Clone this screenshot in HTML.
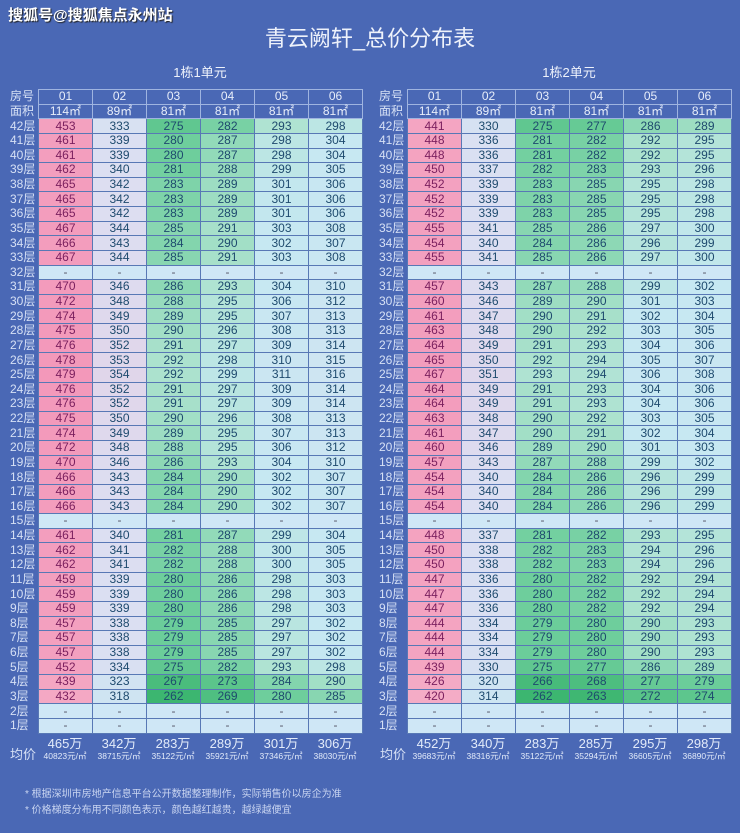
<!DOCTYPE html>
<html><head><meta charset="utf-8">
<style>
body{margin:0;width:740px;height:833px;background:#4a68b5;font-family:"Liberation Sans","Noto Sans CJK SC",sans-serif;overflow:hidden;position:relative}
.wm{position:absolute;left:8px;top:4px;font-size:15px;font-weight:bold;color:#fff;text-shadow:1px 1px 1px #222}
.title{position:absolute;left:0;width:740px;top:21px;text-align:center;font-size:22px;color:#eef2fb}
.sub{position:absolute;top:62px;font-size:13px;color:#eef2fb;text-align:center;width:324px}
table{position:absolute;top:89px;border-collapse:collapse;table-layout:fixed}
td,th{height:13.64px;padding:0;font-size:12px;line-height:13px;text-align:center;font-weight:normal;border:1px solid #5878b5}
th{border:none;color:#d6e0f5;width:28px;text-align:left;padding-left:2px}
tr.h td{color:#e8eefa;border:1px solid #9fb4e0;background:#4a68b5}
td{width:53px;color:#1e4a6e}
td.c1{color:#7a1f5e}
td.e{background:#cfe7f6;color:#556}
.avg{position:absolute;top:737px;width:54px;text-align:center;color:#e3ebfa}
.avg b{display:block;font-weight:normal;font-size:13px;line-height:14px}
.avg i{display:block;font-style:normal;font-size:8.5px;line-height:11px;white-space:nowrap;margin-left:-4px;margin-right:-4px}
.al{position:absolute;top:744px;font-size:13px;color:#d6e0f5}
.note{position:absolute;left:25px;font-size:10px;color:#c9d5f1}
</style></head><body>
<div class="wm">搜狐号@搜狐焦点永州站</div>
<div class="title">青云阙轩_总价分布表</div>
<div class="sub" style="left:38px">1栋1单元</div>
<div class="sub" style="left:407px">1栋2单元</div>

<table id="t1" style="left:8px">
<tr class="h"><th>房号</th><td>01</td><td>02</td><td>03</td><td>04</td><td>05</td><td>06</td></tr>
<tr class="h"><th>面积</th><td>114㎡</td><td>89㎡</td><td>81㎡</td><td>81㎡</td><td>81㎡</td><td>81㎡</td></tr>
<tr><th>42层</th><td>453</td><td>333</td><td>275</td><td>282</td><td>293</td><td>298</td></tr>
<tr><th>41层</th><td>461</td><td>339</td><td>280</td><td>287</td><td>298</td><td>304</td></tr>
<tr><th>40层</th><td>461</td><td>339</td><td>280</td><td>287</td><td>298</td><td>304</td></tr>
<tr><th>39层</th><td>462</td><td>340</td><td>281</td><td>288</td><td>299</td><td>305</td></tr>
<tr><th>38层</th><td>465</td><td>342</td><td>283</td><td>289</td><td>301</td><td>306</td></tr>
<tr><th>37层</th><td>465</td><td>342</td><td>283</td><td>289</td><td>301</td><td>306</td></tr>
<tr><th>36层</th><td>465</td><td>342</td><td>283</td><td>289</td><td>301</td><td>306</td></tr>
<tr><th>35层</th><td>467</td><td>344</td><td>285</td><td>291</td><td>303</td><td>308</td></tr>
<tr><th>34层</th><td>466</td><td>343</td><td>284</td><td>290</td><td>302</td><td>307</td></tr>
<tr><th>33层</th><td>467</td><td>344</td><td>285</td><td>291</td><td>303</td><td>308</td></tr>
<tr><th>32层</th><td>-</td><td>-</td><td>-</td><td>-</td><td>-</td><td>-</td></tr>
<tr><th>31层</th><td>470</td><td>346</td><td>286</td><td>293</td><td>304</td><td>310</td></tr>
<tr><th>30层</th><td>472</td><td>348</td><td>288</td><td>295</td><td>306</td><td>312</td></tr>
<tr><th>29层</th><td>474</td><td>349</td><td>289</td><td>295</td><td>307</td><td>313</td></tr>
<tr><th>28层</th><td>475</td><td>350</td><td>290</td><td>296</td><td>308</td><td>313</td></tr>
<tr><th>27层</th><td>476</td><td>352</td><td>291</td><td>297</td><td>309</td><td>314</td></tr>
<tr><th>26层</th><td>478</td><td>353</td><td>292</td><td>298</td><td>310</td><td>315</td></tr>
<tr><th>25层</th><td>479</td><td>354</td><td>292</td><td>299</td><td>311</td><td>316</td></tr>
<tr><th>24层</th><td>476</td><td>352</td><td>291</td><td>297</td><td>309</td><td>314</td></tr>
<tr><th>23层</th><td>476</td><td>352</td><td>291</td><td>297</td><td>309</td><td>314</td></tr>
<tr><th>22层</th><td>475</td><td>350</td><td>290</td><td>296</td><td>308</td><td>313</td></tr>
<tr><th>21层</th><td>474</td><td>349</td><td>289</td><td>295</td><td>307</td><td>313</td></tr>
<tr><th>20层</th><td>472</td><td>348</td><td>288</td><td>295</td><td>306</td><td>312</td></tr>
<tr><th>19层</th><td>470</td><td>346</td><td>286</td><td>293</td><td>304</td><td>310</td></tr>
<tr><th>18层</th><td>466</td><td>343</td><td>284</td><td>290</td><td>302</td><td>307</td></tr>
<tr><th>17层</th><td>466</td><td>343</td><td>284</td><td>290</td><td>302</td><td>307</td></tr>
<tr><th>16层</th><td>466</td><td>343</td><td>284</td><td>290</td><td>302</td><td>307</td></tr>
<tr><th>15层</th><td>-</td><td>-</td><td>-</td><td>-</td><td>-</td><td>-</td></tr>
<tr><th>14层</th><td>461</td><td>340</td><td>281</td><td>287</td><td>299</td><td>304</td></tr>
<tr><th>13层</th><td>462</td><td>341</td><td>282</td><td>288</td><td>300</td><td>305</td></tr>
<tr><th>12层</th><td>462</td><td>341</td><td>282</td><td>288</td><td>300</td><td>305</td></tr>
<tr><th>11层</th><td>459</td><td>339</td><td>280</td><td>286</td><td>298</td><td>303</td></tr>
<tr><th>10层</th><td>459</td><td>339</td><td>280</td><td>286</td><td>298</td><td>303</td></tr>
<tr><th>9层</th><td>459</td><td>339</td><td>280</td><td>286</td><td>298</td><td>303</td></tr>
<tr><th>8层</th><td>457</td><td>338</td><td>279</td><td>285</td><td>297</td><td>302</td></tr>
<tr><th>7层</th><td>457</td><td>338</td><td>279</td><td>285</td><td>297</td><td>302</td></tr>
<tr><th>6层</th><td>457</td><td>338</td><td>279</td><td>285</td><td>297</td><td>302</td></tr>
<tr><th>5层</th><td>452</td><td>334</td><td>275</td><td>282</td><td>293</td><td>298</td></tr>
<tr><th>4层</th><td>439</td><td>323</td><td>267</td><td>273</td><td>284</td><td>290</td></tr>
<tr><th>3层</th><td>432</td><td>318</td><td>262</td><td>269</td><td>280</td><td>285</td></tr>
<tr><th>2层</th><td>-</td><td>-</td><td>-</td><td>-</td><td>-</td><td>-</td></tr>
<tr><th>1层</th><td>-</td><td>-</td><td>-</td><td>-</td><td>-</td><td>-</td></tr>
</table>

<table id="t2" style="left:377px">
<tr class="h"><th>房号</th><td>01</td><td>02</td><td>03</td><td>04</td><td>05</td><td>06</td></tr>
<tr class="h"><th>面积</th><td>114㎡</td><td>89㎡</td><td>81㎡</td><td>81㎡</td><td>81㎡</td><td>81㎡</td></tr>
<tr><th>42层</th><td>441</td><td>330</td><td>275</td><td>277</td><td>286</td><td>289</td></tr>
<tr><th>41层</th><td>448</td><td>336</td><td>281</td><td>282</td><td>292</td><td>295</td></tr>
<tr><th>40层</th><td>448</td><td>336</td><td>281</td><td>282</td><td>292</td><td>295</td></tr>
<tr><th>39层</th><td>450</td><td>337</td><td>282</td><td>283</td><td>293</td><td>296</td></tr>
<tr><th>38层</th><td>452</td><td>339</td><td>283</td><td>285</td><td>295</td><td>298</td></tr>
<tr><th>37层</th><td>452</td><td>339</td><td>283</td><td>285</td><td>295</td><td>298</td></tr>
<tr><th>36层</th><td>452</td><td>339</td><td>283</td><td>285</td><td>295</td><td>298</td></tr>
<tr><th>35层</th><td>455</td><td>341</td><td>285</td><td>286</td><td>297</td><td>300</td></tr>
<tr><th>34层</th><td>454</td><td>340</td><td>284</td><td>286</td><td>296</td><td>299</td></tr>
<tr><th>33层</th><td>455</td><td>341</td><td>285</td><td>286</td><td>297</td><td>300</td></tr>
<tr><th>32层</th><td>-</td><td>-</td><td>-</td><td>-</td><td>-</td><td>-</td></tr>
<tr><th>31层</th><td>457</td><td>343</td><td>287</td><td>288</td><td>299</td><td>302</td></tr>
<tr><th>30层</th><td>460</td><td>346</td><td>289</td><td>290</td><td>301</td><td>303</td></tr>
<tr><th>29层</th><td>461</td><td>347</td><td>290</td><td>291</td><td>302</td><td>304</td></tr>
<tr><th>28层</th><td>463</td><td>348</td><td>290</td><td>292</td><td>303</td><td>305</td></tr>
<tr><th>27层</th><td>464</td><td>349</td><td>291</td><td>293</td><td>304</td><td>306</td></tr>
<tr><th>26层</th><td>465</td><td>350</td><td>292</td><td>294</td><td>305</td><td>307</td></tr>
<tr><th>25层</th><td>467</td><td>351</td><td>293</td><td>294</td><td>306</td><td>308</td></tr>
<tr><th>24层</th><td>464</td><td>349</td><td>291</td><td>293</td><td>304</td><td>306</td></tr>
<tr><th>23层</th><td>464</td><td>349</td><td>291</td><td>293</td><td>304</td><td>306</td></tr>
<tr><th>22层</th><td>463</td><td>348</td><td>290</td><td>292</td><td>303</td><td>305</td></tr>
<tr><th>21层</th><td>461</td><td>347</td><td>290</td><td>291</td><td>302</td><td>304</td></tr>
<tr><th>20层</th><td>460</td><td>346</td><td>289</td><td>290</td><td>301</td><td>303</td></tr>
<tr><th>19层</th><td>457</td><td>343</td><td>287</td><td>288</td><td>299</td><td>302</td></tr>
<tr><th>18层</th><td>454</td><td>340</td><td>284</td><td>286</td><td>296</td><td>299</td></tr>
<tr><th>17层</th><td>454</td><td>340</td><td>284</td><td>286</td><td>296</td><td>299</td></tr>
<tr><th>16层</th><td>454</td><td>340</td><td>284</td><td>286</td><td>296</td><td>299</td></tr>
<tr><th>15层</th><td>-</td><td>-</td><td>-</td><td>-</td><td>-</td><td>-</td></tr>
<tr><th>14层</th><td>448</td><td>337</td><td>281</td><td>282</td><td>293</td><td>295</td></tr>
<tr><th>13层</th><td>450</td><td>338</td><td>282</td><td>283</td><td>294</td><td>296</td></tr>
<tr><th>12层</th><td>450</td><td>338</td><td>282</td><td>283</td><td>294</td><td>296</td></tr>
<tr><th>11层</th><td>447</td><td>336</td><td>280</td><td>282</td><td>292</td><td>294</td></tr>
<tr><th>10层</th><td>447</td><td>336</td><td>280</td><td>282</td><td>292</td><td>294</td></tr>
<tr><th>9层</th><td>447</td><td>336</td><td>280</td><td>282</td><td>292</td><td>294</td></tr>
<tr><th>8层</th><td>444</td><td>334</td><td>279</td><td>280</td><td>290</td><td>293</td></tr>
<tr><th>7层</th><td>444</td><td>334</td><td>279</td><td>280</td><td>290</td><td>293</td></tr>
<tr><th>6层</th><td>444</td><td>334</td><td>279</td><td>280</td><td>290</td><td>293</td></tr>
<tr><th>5层</th><td>439</td><td>330</td><td>275</td><td>277</td><td>286</td><td>289</td></tr>
<tr><th>4层</th><td>426</td><td>320</td><td>266</td><td>268</td><td>277</td><td>279</td></tr>
<tr><th>3层</th><td>420</td><td>314</td><td>262</td><td>263</td><td>272</td><td>274</td></tr>
<tr><th>2层</th><td>-</td><td>-</td><td>-</td><td>-</td><td>-</td><td>-</td></tr>
<tr><th>1层</th><td>-</td><td>-</td><td>-</td><td>-</td><td>-</td><td>-</td></tr>
</table>

<div class="al" style="left:10px">均价</div>
<div class="avg" style="left:38px"><b>465万</b><i>40823元/㎡</i></div>
<div class="avg" style="left:92px"><b>342万</b><i>38715元/㎡</i></div>
<div class="avg" style="left:146px"><b>283万</b><i>35122元/㎡</i></div>
<div class="avg" style="left:200px"><b>289万</b><i>35921元/㎡</i></div>
<div class="avg" style="left:254px"><b>301万</b><i>37346元/㎡</i></div>
<div class="avg" style="left:308px"><b>306万</b><i>38030元/㎡</i></div>
<div class="al" style="left:380px">均价</div>
<div class="avg" style="left:407px"><b>452万</b><i>39683元/㎡</i></div>
<div class="avg" style="left:461px"><b>340万</b><i>38316元/㎡</i></div>
<div class="avg" style="left:515px"><b>283万</b><i>35122元/㎡</i></div>
<div class="avg" style="left:569px"><b>285万</b><i>35294元/㎡</i></div>
<div class="avg" style="left:623px"><b>295万</b><i>36605元/㎡</i></div>
<div class="avg" style="left:677px"><b>298万</b><i>36890元/㎡</i></div>

<div class="note" style="top:785px">* 根据深圳市房地产信息平台公开数据整理制作，实际销售价以房企为准</div>
<div class="note" style="top:801px">* 价格梯度分布用不同颜色表示，颜色越红越贵，越绿越便宜</div>

<script>
var stops=[[262,[60,182,112]],[280,[110,206,156]],[292,[172,226,206]],[302,[198,232,242]],[340,[220,223,242]],[420,[244,172,198]],[480,[243,152,186]]];
function col(v){if(v<=stops[0][0])return stops[0][1];for(var i=1;i<stops.length;i++){if(v<=stops[i][0]){var a=stops[i-1],b=stops[i],t=(v-a[0])/(b[0]-a[0]);return a[1].map(function(x,k){return Math.round(x+(b[1][k]-x)*t)});}}return stops[stops.length-1][1];}
document.querySelectorAll('table tr:not(.h)').forEach(function(tr){
  tr.querySelectorAll('td').forEach(function(td,i){
    var v=parseInt(td.textContent);
    if(isNaN(v)){td.className='e';return;}
    var c=col(v);td.style.background='rgb('+c.join(',')+')';
    if(i==0)td.className='c1';
  });
});
</script>
</body></html>
